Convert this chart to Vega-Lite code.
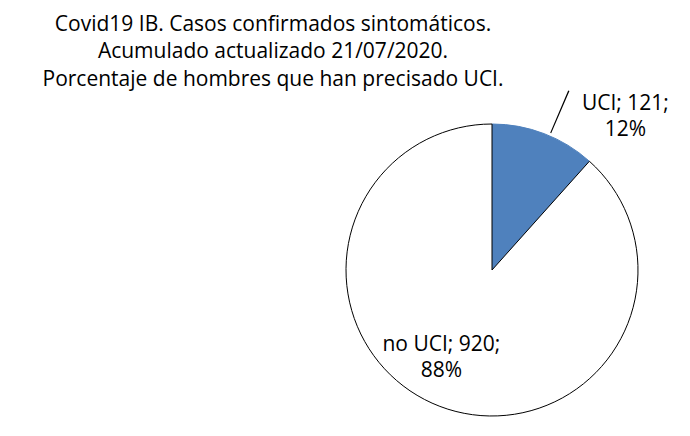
{
  "$schema": "https://vega.github.io/schema/vega-lite/v6.json",
  "autosize": "none",
  "width": 292,
  "height": 292,
  "padding": {"left": 346, "top": 124, "right": 52, "bottom": 20},
  "background": "white",
  "config": {"view": {"stroke": null}, "font": "Open Sans"},
  "title": {
    "text": ["Covid19 IB. Casos confirmados sintomáticos.", "Acumulado actualizado 21/07/2020.", "Porcentaje de hombres que han precisado UCI."],
    "anchor": "middle",
    "frame": "group",
    "dx": -219,
    "offset": 1,
    "fontSize": 21,
    "fontWeight": "normal",
    "color": "#000000",
    "lineHeight": 27.5,
    "font": "Open Sans"
  },
  "data": {
    "values": [
      {"categoria": "UCI", "casos": 121, "etiqueta": "UCI; 121;\n12%"},
      {"categoria": "no UCI", "casos": 920, "etiqueta": "no UCI; 920;\n88%"}
    ]
  },
  "resolve": {"scale": {"theta": "independent"}},
  "layer": [
    {
      "mark": {"type": "arc", "strokeWidth": 1},
      "encoding": {
        "theta": {"field": "casos", "type": "quantitative", "stack": true},
        "order": {"field": "casos", "type": "quantitative", "sort": "ascending"},
        "color": {"field": "categoria", "type": "nominal", "scale": {"domain": ["UCI", "no UCI"], "range": ["#4F81BD", "#FFFFFF"]}, "legend": null},
        "stroke": {"field": "categoria", "type": "nominal", "scale": {"domain": ["UCI", "no UCI"], "range": ["#4F81BD", "#000000"]}, "legend": null}
      }
    },
    {
      "mark": {"type": "text", "radius": 200, "dx": 62, "dy": 21, "fontSize": 21, "lineHeight": 26, "lineBreak": "\n", "align": "center", "baseline": "middle", "color": "#000000", "font": "Open Sans"},
      "encoding": {
        "theta": {"field": "casos", "type": "quantitative", "stack": true},
        "order": {"field": "casos", "type": "quantitative", "sort": "ascending"},
        "detail": {"field": "categoria", "type": "nominal"},
        "text": {"condition": {"test": "datum.categoria === 'UCI'", "field": "etiqueta"}, "value": ""}
      }
    },
    {
      "mark": {"type": "text", "radius": 80, "dx": -22, "dy": 0, "fontSize": 21, "lineHeight": 26, "lineBreak": "\n", "align": "center", "baseline": "middle", "color": "#000000", "font": "Open Sans"},
      "encoding": {
        "theta": {"field": "casos", "type": "quantitative", "stack": true},
        "order": {"field": "casos", "type": "quantitative", "sort": "ascending"},
        "detail": {"field": "categoria", "type": "nominal"},
        "text": {"condition": {"test": "datum.categoria === 'no UCI'", "field": "etiqueta"}, "value": ""}
      }
    },
    {
      "mark": {"type": "arc", "radius": 195, "radius2": 149, "stroke": null},
      "encoding": {
        "theta": {"field": "casos", "type": "quantitative", "stack": true, "scale": {"range": [0.40143, 0.46149]}},
        "order": {"field": "casos", "type": "quantitative", "sort": "ascending"},
        "fill": {"condition": {"test": "datum.categoria === 'UCI'", "value": "#000000"}, "value": "transparent"}
      }
    }
  ]
}
